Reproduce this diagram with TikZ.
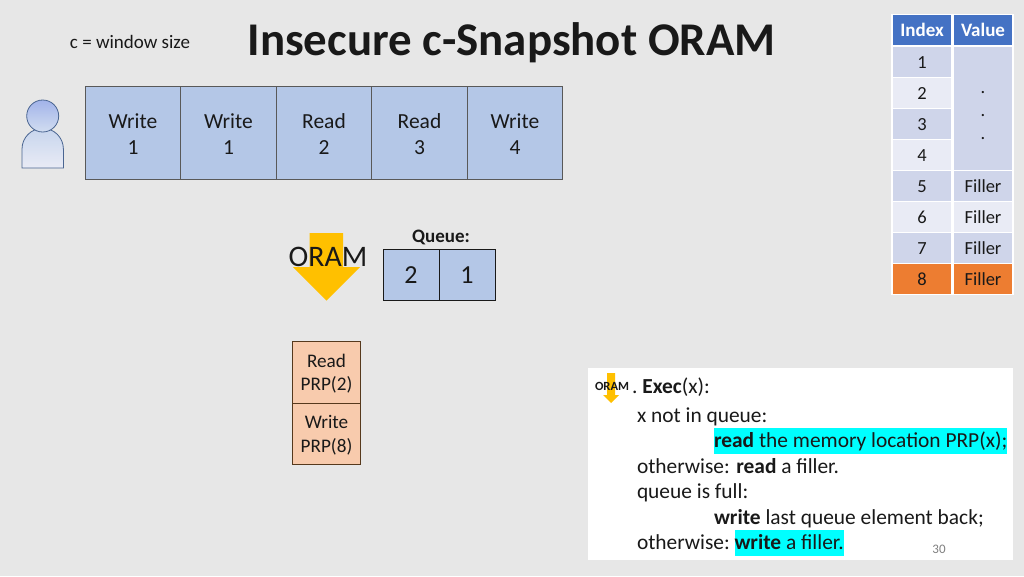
\documentclass[tikz,border=0pt]{standalone}
\usepackage{fontspec}
\setmainfont{Carlito}
\usetikzlibrary{positioning}
\definecolor{slidebg}{HTML}{E7E7E7}
\definecolor{cellblue}{HTML}{B4C7E7}
\definecolor{cellpeach}{HTML}{F8CBAD}
\definecolor{headblue}{HTML}{4472C4}
\definecolor{banddark}{HTML}{CFD5EA}
\definecolor{bandlight}{HTML}{E9EBF5}
\definecolor{rowhot}{HTML}{ED7D31}
\definecolor{arrowgold}{HTML}{FFC000}
\definecolor{linkblue}{HTML}{4A6591}
\definecolor{markcyan}{HTML}{00FFFF}
\newcommand{\pxfont}[2]{\fontsize{#1}{#2}\selectfont}
\newcommand{\topgap}[1]{\rule{0pt}{#1pt}}

\begin{document}
\begin{tikzpicture}[
    x=1pt, y=-1pt,
    on grid,
    every node/.style={inner sep=0pt, outer sep=0pt, text=black!90},
    opcell/.style={draw=black!65, line width=0.8pt, fill=cellblue, minimum width=95.5pt, minimum height=93pt, align=center, font=\pxfont{21.5}{26}},
    qcell/.style={draw=black!90, line width=1pt, fill=cellblue, minimum width=56pt, minimum height=51pt, font=\pxfont{26}{26}},
    prpcell/.style={draw=black!55!brown, line width=0.7pt, fill=cellpeach, minimum width=68pt, minimum height=61.5pt, align=center, font=\pxfont{19.2}{23.5}},
    tbase/.style={draw=white, line width=1.2pt, minimum width=60pt, minimum height=31pt, font=\pxfont{18.5}{23}},
    tcell/.style={tbase, text height=15pt, text depth=1.2pt},
    thead/.style={tbase, fill=headblue, text=white, font=\pxfont{19}{23}\bfseries},
    codeline/.style={anchor=base west, font=\pxfont{21.4}{26}},
    hilite/.style={codeline, fill=markcyan, text height=20pt, text depth=6pt}
]

   % Slide
   \path[use as bounding box, fill=slidebg] (0,0) rectangle (1024,576);
   \node[font=\pxfont{46.9}{50}\bfseries] (title) at (511.5,42.5) {Insecure c-Snapshot ORAM};
   \node[font=\pxfont{19}{23}] (wsize) at (130,41.5) {c = window size};

   % User
   \draw[linkblue, line width=0.8pt, top color=cellblue!75!white, bottom color=bandlight]
      (22,168) -- (22,149) arc[start angle=180, end angle=360, radius=20.7] -- (63.4,168) -- cycle;
   \draw[linkblue, line width=0.8pt, top color=cellblue!90!blue, bottom color=cellblue!60!white]
      (42.7,116) circle[radius=16];

   % Requests
   \node[opcell] (w1) at (133,132.5) {\topgap{18.5}Write\\1};
   \node[opcell, right=95.5pt of w1] (w2) {\topgap{18.5}Write\\1};
   \node[opcell, right=95.5pt of w2] (r2) {\topgap{18.5}Read\\2};
   \node[opcell, right=95.5pt of r2] (r3) {\topgap{18.5}Read\\3};
   \node[opcell, right=95.5pt of r3] (w4) {\topgap{18.5}Write\\4};

   % ORAM arrow and queue
   \fill[arrowgold] (309.5,233) -- (343,233) -- (343,267) -- (360,267) -- (326.5,300.5)
      -- (293,267) -- (309.5,267) -- cycle;
   \node[font=\pxfont{29.8}{32}] (oram) at (328,257) {ORAM};
   \node[font=\pxfont{19}{23}\bfseries] (qlabel) at (441,237) {Queue:};
   \node[qcell] (q2) at (411,275) {2};
   \node[qcell, right=56pt of q2] (q1) {1};

   % Memory accesses
   \node[prpcell] (rprp) at (326.5,372.5) {\topgap{15.5}Read\\PRP(2)};
   \node[prpcell, below=61.5pt of rprp] (wprp) {\topgap{15.5}Write\\PRP(8)};

   % Table
   \node[thead] (hidx) at (922,30) {Index};
   \node[thead, right=61pt of hidx] (hval) {Value};
   \node[tcell, fill=banddark, below=32pt of hidx] (i1) {1};
   \node[tcell, fill=bandlight, below=31pt of i1] (i2) {2};
   \node[tcell, fill=banddark, below=31pt of i2] (i3) {3};
   \node[tcell, fill=bandlight, below=31pt of i3] (i4) {4};
   \node[tcell, fill=banddark, below=31pt of i4] (i5) {5};
   \node[tcell, fill=bandlight, below=31pt of i5] (i6) {6};
   \node[tcell, fill=banddark, below=31pt of i6] (i7) {7};
   \node[tcell, fill=rowhot, below=31pt of i7] (i8) {8};
   \node[tbase, fill=banddark, minimum height=124pt, align=center] (vdots) at (983,108.5) {\topgap{16}.\\.\\.};
   \node[tcell, fill=banddark, right=61pt of i5] (v5) {Filler};
   \node[tcell, fill=bandlight, right=61pt of i6] (v6) {Filler};
   \node[tcell, fill=banddark, right=61pt of i7] (v7) {Filler};
   \node[tcell, fill=rowhot, right=61pt of i8] (v8) {Filler};

   % Pseudocode
   \node[fill=white, minimum width=425pt, minimum height=192pt] (codebox) at (800,464) {};
   \fill[arrowgold] (607,373) -- (615,373) -- (615,395) -- (619,395) -- (611,403)
      -- (603,395) -- (607,395) -- cycle;
   \node[font=\pxfont{12.5}{14}\bfseries] (oramsmall) at (612,386) {ORAM};
   \node[codeline] (l1) at (632,393) {.\hspace{5pt}\textbf{Exec}(x):};
   \node[codeline] (l2) at (637,422) {x not in queue:};
   \node[hilite] (l3) at (714,447.5) {\textbf{read} the memory location PRP(x);};
   \node[codeline] (l4) at (637,473) {otherwise: \textbf{read} a filler.};
   \node[codeline] (l5) at (637,498.5) {queue is full:};
   \node[codeline] (l6) at (714,524) {\textbf{write} last queue element back;};
   \node[codeline] (l7) at (637,549.5) {otherwise:};
   \node[hilite] (l7b) at (734.5,549.5) {\textbf{write} a filler.};
   \node[font=\pxfont{13}{15}, text=black!50] (pageno) at (939,549) {30};

\end{tikzpicture}
\end{document}
